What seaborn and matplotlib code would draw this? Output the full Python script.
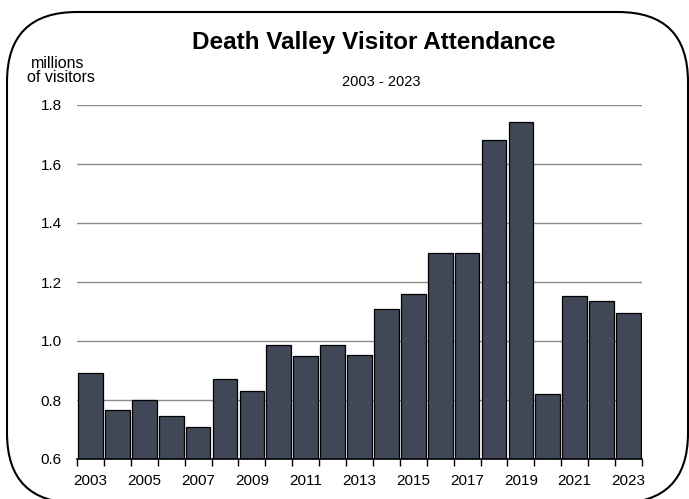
import matplotlib
matplotlib.use("Agg")
import matplotlib.pyplot as plt
import seaborn as sns
import pandas as pd
import numpy as np
from matplotlib.patches import FancyBboxPatch
from matplotlib.ticker import FixedLocator

years = list(range(2003, 2024))
visitors = [0.89, 0.767, 0.80, 0.746, 0.709, 0.872, 0.831, 0.988, 0.95, 0.988,
            0.954, 1.107, 1.158, 1.298, 1.298, 1.68, 1.744, 0.821, 1.151, 1.134, 1.094]
y_ticks = [0.6, 0.8, 1.0, 1.2, 1.4, 1.6, 1.8]
x_labels = [str(y) if y % 2 == 1 else "" for y in years]

sns.set_theme(style="white")
plt.rcParams['font.family'] = ['Liberation Sans', 'DejaVu Sans']

fig = plt.figure(figsize=(6.89, 4.99), dpi=100)
ax = fig.add_axes([77/689, 1 - 459/499, (642-77)/689, (459-105)/499])

df = pd.DataFrame({"year": [str(y) for y in years], "visitors": visitors})
sns.barplot(data=df, x="year", y="visitors", ax=ax, color="#404756",
            saturation=1, width=0.92, edgecolor="black", linewidth=0.9, zorder=3)

ax.set_ylim(0.6, 1.8)
ax.set_xlim(-0.5, len(years) - 0.5)
ax.set_yticks(y_ticks)
ax.set_yticklabels([f"{v:.1f}" for v in y_ticks], fontsize=11)
for v in y_ticks[1:]:
    ax.axhline(v, color="#8a8a8a", linewidth=1.0, zorder=1)

ax.set_xticks(range(len(years)))
ax.set_xticklabels(x_labels, fontsize=11)
ax.xaxis.set_minor_locator(FixedLocator(np.arange(-0.5, len(years), 1.0)))
ax.tick_params(axis="x", which="major", length=0, pad=11, colors="black")
ax.tick_params(axis="x", which="minor", length=5, width=1, color="black", direction="out", bottom=True)
ax.tick_params(axis="y", length=0, pad=11, colors="black")
ax.set_xlabel("")
ax.set_ylabel("")
for s in ["left", "right", "top"]:
    ax.spines[s].set_visible(False)
ax.spines["bottom"].set_color("black")
ax.spines["bottom"].set_linewidth(1.2)
ax.spines["bottom"].set_zorder(4)

fig.text(374/689, 1 - 42/499, "Death Valley Visitor Attendance", ha="center", va="center",
         fontsize=17.5, fontweight="bold", color="black")
fig.text(381/689, 1 - 82/499, "2003 - 2023", ha="center", va="center", fontsize=10.5, color="black")
fig.text(31/689, 1 - 63/499, "millions", ha="left", va="center", fontsize=11.5, color="black")
fig.text(27/689, 1 - 78/499, "of visitors", ha="left", va="center", fontsize=11.5, color="black")

box = FancyBboxPatch((0.07, -0.04), 6.81, 4.91,
                     boxstyle="round,pad=0,rounding_size=0.7",
                     transform=fig.dpi_scale_trans, fill=False,
                     edgecolor="black", linewidth=1.5, clip_on=False)
fig.patches.append(box)

fig.savefig("out.png", dpi=100)
